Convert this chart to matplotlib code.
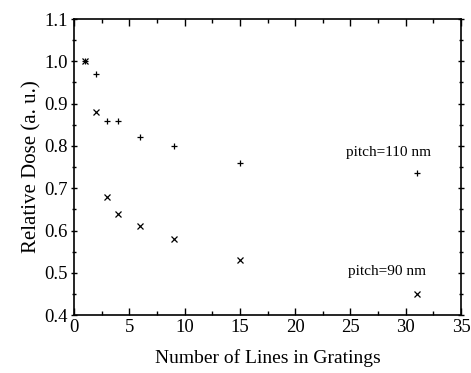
import matplotlib
matplotlib.use("Agg")
import matplotlib.pyplot as plt
from matplotlib.ticker import MultipleLocator

plt.rcParams["font.family"] = ["Liberation Serif", "DejaVu Serif"]

# Relative dose vs number of lines in gratings
n_lines = [1, 2, 3, 4, 6, 9, 15, 31]
dose_110 = [1.00, 0.97, 0.86, 0.86, 0.82, 0.80, 0.76, 0.735]
dose_90 = [1.00, 0.88, 0.68, 0.64, 0.61, 0.58, 0.53, 0.45]

fig = plt.figure(figsize=(4.71, 3.73), dpi=100)
ax = fig.add_axes([0.157, 0.155, 0.822, 0.794])

ax.plot(n_lines, dose_110, linestyle="none", marker="+", color="black",
        markersize=5, markeredgewidth=0.9)
ax.plot(n_lines, dose_90, linestyle="none", marker="x", color="black",
        markersize=4.5, markeredgewidth=0.9)

ax.text(24.6, 0.776, "pitch=110 nm", fontsize=11)
ax.text(24.8, 0.495, "pitch=90 nm", fontsize=11)

ax.set_xlim(0, 35)
ax.set_ylim(0.4, 1.1)
ax.xaxis.set_major_locator(MultipleLocator(5))
ax.xaxis.set_minor_locator(MultipleLocator(2.5))
ax.yaxis.set_major_locator(MultipleLocator(0.1))
ax.yaxis.set_minor_locator(MultipleLocator(0.05))
ax.yaxis.set_major_formatter(plt.FormatStrFormatter("%.1f"))

ax.tick_params(which="both", direction="in", top=True, right=True,
               labelsize=13.5, width=1)
ax.tick_params(which="major", length=5)
ax.tick_params(which="minor", length=3)
ax.tick_params(axis="y", which="both", left=True, direction="inout", pad=2)
ax.tick_params(axis="x", pad=3)
for s in ax.spines.values():
    s.set_linewidth(1.2)

ax.set_xlabel("Number of Lines in Gratings", fontsize=14, labelpad=9)
ax.set_ylabel("Relative Dose (a. u.)", fontsize=15, labelpad=2)

fig.savefig("out.png", dpi=100)
